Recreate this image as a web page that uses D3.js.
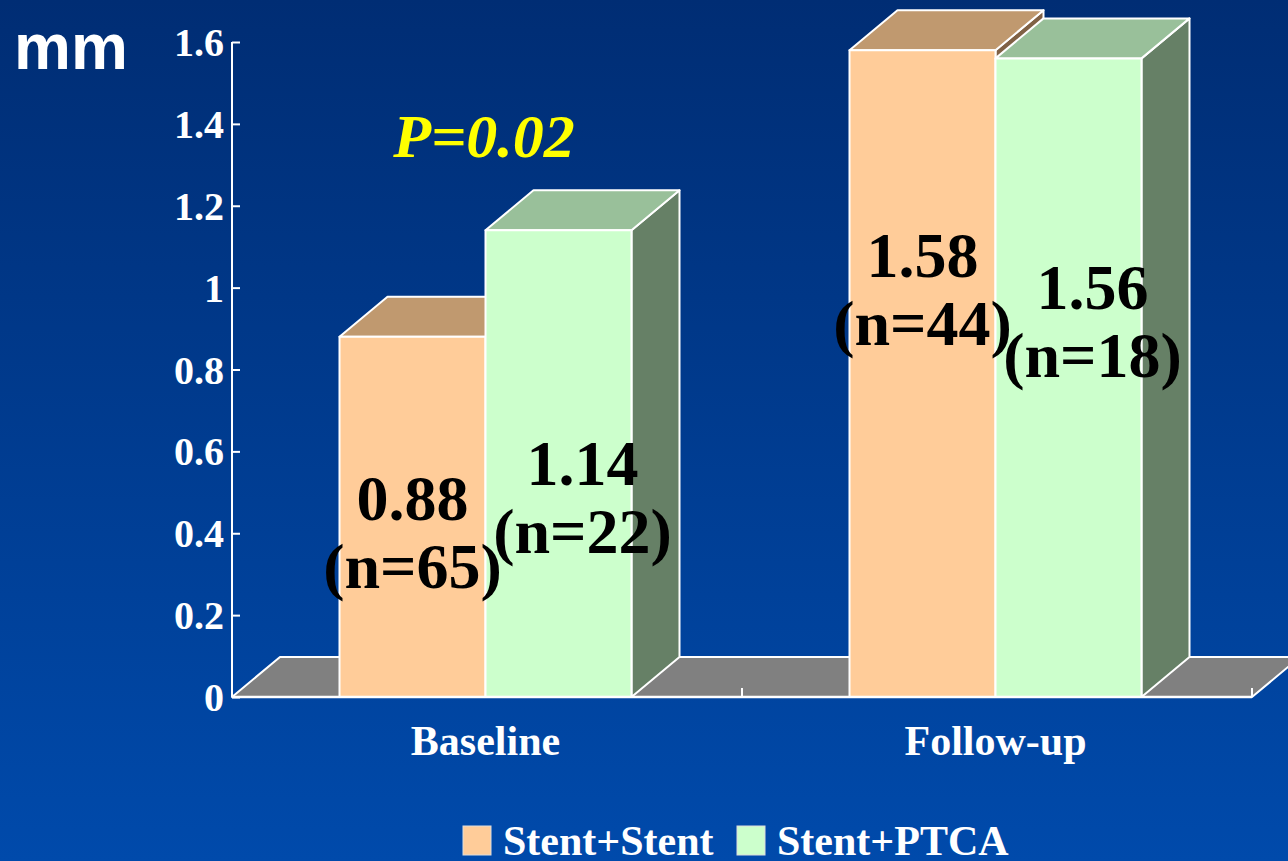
<!DOCTYPE html>
<html>
<head>
<meta charset="utf-8">
<script src="https://cdn.jsdelivr.net/npm/d3@7"></script>
<style>
  html, body { margin: 0; padding: 0; background: #00388f; }
  svg { display: block; }
</style>
</head>
<body>
<svg id="chart" width="1288" height="861"></svg>
<script>
// ---- data ----
const categories = ["Baseline", "Follow-up"];
const seriesNames = ["Stent+Stent", "Stent+PTCA"];
const stentStent = [0.88, 1.58];
const stentPtca = [1.14, 1.56];
const nStentStent = [65, 44];
const nStentPtca = [22, 18];
const yTickValues = [0, 0.2, 0.4, 0.6, 0.8, 1, 1.2, 1.4, 1.6];
const yTickLabels = ["0", "0.2", "0.4", "0.6", "0.8", "1", "1.2", "1.4", "1.6"];
const unitLabel = "mm";
const pLabel = "P=0.02";

// ---- layout ----
const W = 1288, H = 861;
const plot = { left: 232, right: 1252, top: 42, bottom: 697 };
const depth = { dx: 48, dy: 40 };
// height (in mm units) at which each value label's first line sits
const labelLevel = [[0.433, 0.518], [1.027, 0.949]];
const pLevel = 1.32;

const palette = [
  { front: "#ffcc99", top: "#c0996f", side: "#806145" },
  { front: "#ccffcc", top: "#99c09a", side: "#668066" }
];
const serif = "'Liberation Serif', 'Times New Roman', Times, serif";
const sans = "'Liberation Sans', Arial, Helvetica, sans-serif";

const svg = d3.select("#chart");

// background gradient
const defs = svg.append("defs");
const grad = defs.append("linearGradient").attr("id", "bg")
  .attr("x1", 0).attr("y1", 0).attr("x2", 0).attr("y2", 1);
grad.append("stop").attr("offset", "0%").attr("stop-color", "#002d74");
grad.append("stop").attr("offset", "100%").attr("stop-color", "#004aab");
svg.append("rect").attr("width", W).attr("height", H).attr("fill", "url(#bg)");

// scales
const x = d3.scaleBand().domain(categories).range([plot.left, plot.right]).padding(0);
const y = d3.scaleLinear().domain([0, 1.6]).range([plot.bottom, plot.top]);
const barW = 146;
const inner = d3.scaleBand().domain(seriesNames).range([-barW, barW]).padding(0);

const values = [stentStent, stentPtca];
const counts = [nStentStent, nStentPtca];

// floor
const y0 = y(0);
svg.append("path")
  .attr("d", `M${plot.left},${y0} L${plot.left + depth.dx},${y0 - depth.dy} L${plot.right + depth.dx},${y0 - depth.dy} L${plot.right},${y0} Z`)
  .attr("fill", "#808080")
  .attr("stroke", "#ffffff").attr("stroke-width", 2).attr("stroke-linejoin", "round");

// category ticks on the floor front edge
svg.append("g").selectAll("line")
  .data(categories)
  .join("line")
  .attr("x1", d => x(d) + x.bandwidth()).attr("x2", d => x(d) + x.bandwidth())
  .attr("y1", y0).attr("y2", y0 - 9)
  .attr("stroke", "#ffffff").attr("stroke-width", 2);

// 3D bars
categories.forEach((cat, ci) => {
  const center = x(cat) + x.bandwidth() / 2 - 1.5;
  seriesNames.forEach((s, si) => {
    const v = values[si][ci];
    const x0 = center + inner(s);
    const w = inner.bandwidth();
    const yv = y(v);
    const g = svg.append("g").attr("class", "bar")
      .attr("stroke", "#ffffff").attr("stroke-width", 2).attr("stroke-linejoin", "round");
    g.append("path")
      .attr("d", `M${x0 + w},${yv} L${x0 + w + depth.dx},${yv - depth.dy} L${x0 + w + depth.dx},${y0 - depth.dy} L${x0 + w},${y0} Z`)
      .attr("fill", palette[si].side);
    g.append("path")
      .attr("d", `M${x0},${yv} L${x0 + depth.dx},${yv - depth.dy} L${x0 + w + depth.dx},${yv - depth.dy} L${x0 + w},${yv} Z`)
      .attr("fill", palette[si].top);
    g.append("rect")
      .attr("x", x0).attr("y", yv).attr("width", w).attr("height", y0 - yv)
      .attr("fill", palette[si].front);
  });
});

// floor front edge
svg.append("line")
  .attr("x1", plot.left).attr("x2", plot.right).attr("y1", y0).attr("y2", y0)
  .attr("stroke", "#ffffff").attr("stroke-width", 2.5);

// y axis
const yAxis = d3.axisLeft(y).tickValues(yTickValues)
  .tickFormat((d, i) => yTickLabels[i]).tickSize(-8).tickPadding(8);
const ga = svg.append("g").attr("transform", `translate(${plot.left},0)`).call(yAxis);
ga.select(".domain").attr("stroke", "#ffffff").attr("stroke-width", 2)
  .attr("d", `M0,${plot.top}V${plot.bottom}`);
ga.selectAll(".tick line").attr("stroke", "#ffffff").attr("stroke-width", 2);
ga.selectAll(".tick text")
  .attr("fill", "#ffffff").attr("font-family", serif).attr("font-weight", "bold")
  .attr("font-size", 40).attr("dy", "0.34em");

// unit label
svg.append("text").attr("x", 14).attr("y", 69)
  .attr("font-family", sans).attr("font-weight", "bold").attr("font-size", 64)
  .attr("fill", "#ffffff").text(unitLabel);

// category labels
svg.append("g").selectAll("text")
  .data(categories)
  .join("text")
  .attr("x", d => x(d) + x.bandwidth() / 2 - 1.5)
  .attr("y", 755)
  .attr("text-anchor", "middle")
  .attr("font-family", serif).attr("font-weight", "bold").attr("font-size", 42)
  .attr("fill", "#ffffff")
  .text(d => d);

// value labels
categories.forEach((cat, ci) => {
  const center = x(cat) + x.bandwidth() / 2 - 1.5;
  seriesNames.forEach((s, si) => {
    const v = values[si][ci];
    const cx = center + inner(s) + inner.bandwidth() / 2 + si * depth.dx / 2;
    const t = svg.append("text")
      .attr("x", cx).attr("y", y(labelLevel[ci][si]))
      .attr("text-anchor", "middle")
      .attr("font-family", serif).attr("font-weight", "bold").attr("font-size", 64)
      .attr("fill", "#000000");
    t.append("tspan").attr("x", cx).text(d3.format(".2f")(v));
    t.append("tspan").attr("x", cx).attr("dy", 68).text(`(n=${counts[si][ci]})`);
  });
});

// significance annotation
svg.append("text")
  .attr("x", x(categories[0]) + x.bandwidth() / 2 - 3)
  .attr("y", y(pLevel))
  .attr("text-anchor", "middle")
  .attr("font-family", serif).attr("font-weight", "bold").attr("font-style", "italic")
  .attr("font-size", 62).attr("fill", "#ffff00")
  .text(pLabel);

// legend
const legendX = [463, 737];
const leg = svg.append("g").selectAll("g")
  .data(seriesNames)
  .join("g")
  .attr("transform", (d, i) => `translate(${legendX[i]},826)`);
leg.append("rect").attr("width", 28).attr("height", 29)
  .attr("fill", (d, i) => palette[i].front)
  .attr("stroke", "#dddddd").attr("stroke-width", 1);
leg.append("text").attr("x", 40).attr("y", 29)
  .attr("font-family", serif).attr("font-weight", "bold").attr("font-size", 42)
  .attr("fill", "#ffffff").text(d => d);
</script>
</body>
</html>
